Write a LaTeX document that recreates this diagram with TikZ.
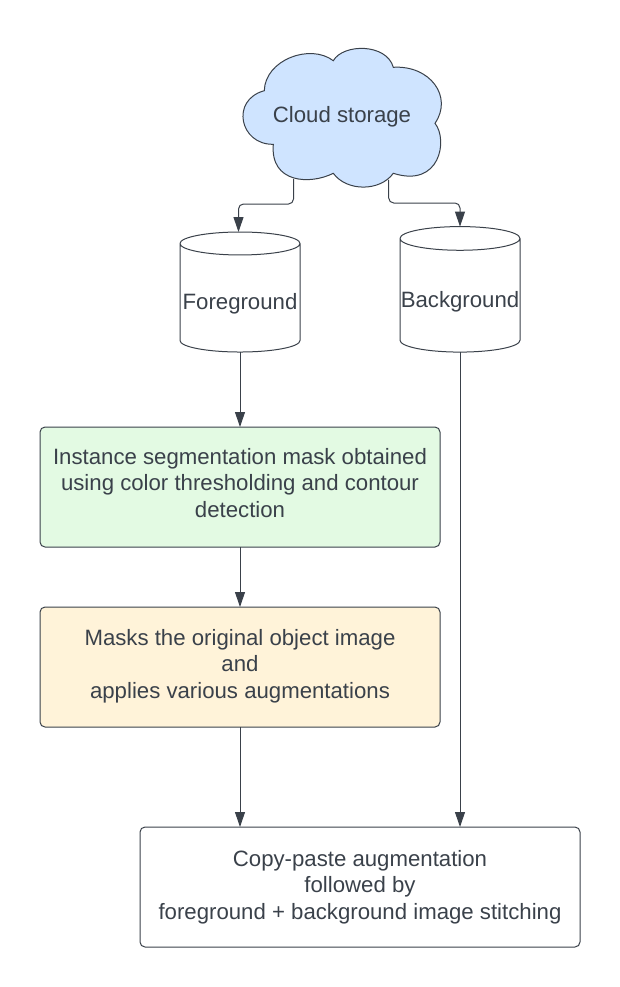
\documentclass[tikz,border=0pt]{standalone}
\usepackage{fontspec}
\setmainfont{Liberation Sans}
\usetikzlibrary{positioning,shapes.geometric,arrows.meta}

\definecolor{inkgrey}{HTML}{3A414A}
\definecolor{cloudblue}{HTML}{CFE4FF}
\definecolor{maskgreen}{HTML}{E3FAE3}
\definecolor{augorange}{HTML}{FFF3D9}

\newcommand{\liftby}[1]{\rule[-#1]{0pt}{#1}}
\newcommand{\dropby}[1]{\rule{0pt}{#1}}

\tikzset{
    x=1pt, y=-1pt,
    every node/.style={font=\fontsize{22.2}{26.5}\selectfont, text=inkgrey},
    flowbox/.style={draw=inkgrey, line width=1pt, rounded corners=5pt, align=center,
        minimum height=120pt, inner sep=0pt, outer sep=0pt},
    store/.style={draw=inkgrey, line width=1pt, cylinder, shape border rotate=90, shape aspect=0.2,
        minimum width=120pt, inner sep=0pt, outer sep=0pt},
    link/.style={draw=inkgrey, line width=1pt, rounded corners=5pt,
        -{Triangle[length=15pt,width=10pt]}},
}

\begin{document}
\begin{tikzpicture}
    \useasboundingbox (0,0) rectangle (620,987);

    \draw [fill=cloudblue, draw=inkgrey, line width=1pt]
        (264.3,90.7)
        .. controls (265,60) and (310,43) .. (333.3,60.7)
        .. controls (343.3,43.3) and (386.7,43.3) .. (393.3,67.3)
        .. controls (430,65) and (453.3,96.7) .. (435,123.3)
        .. controls (448.3,140) and (440,188.3) .. (393.3,173.3)
        .. controls (380,191.7) and (346.7,191.7) .. (333.3,173.3)
        .. controls (310,185) and (270,183.3) .. (273.3,144.3)
        .. controls (240,145) and (230,100) .. (264.3,90.7)
        -- cycle;
    \node (cloud) at (342,117) {Cloud storage};
    \coordinate (cloudfg) at (293.5,179);
    \coordinate (cloudbg) at (388.7,180);

    \node [store, minimum height=120pt] (fg) at (240,298) {\dropby{28pt}Foreground};
    \node [store, minimum height=125.5pt] (bg) at (460,295.5) {\dropby{29pt}Background};

    \node [flowbox, fill=maskgreen, minimum width=400pt, below=75pt of fg] (seg)
        {Instance segmentation mask obtained\\using color thresholding and contour\\detection\liftby{9pt}};
    \node [flowbox, fill=augorange, minimum width=400pt, below=60pt of seg] (aug)
        {Masks the original object image\\and\\applies various augmentations\liftby{7pt}};
    \node [flowbox, minimum width=440pt, anchor=north] (stitch) at (360,827)
        {Copy-paste augmentation\\followed by\\foreground + background image stitching};

    \coordinate (fgbend) at (238.5,204);
    \coordinate (bgbend) at (460,203);
    \coordinate (fgtop) at (238.5,232);

    \draw [link] (cloudfg) |- (fgbend) -- (fgtop);
    \draw [link] (cloudbg) |- (bgbend) -- (bg.north);
    \draw [link] (fg.south) -- (seg);
    \draw [link] (seg) -- (aug);
    \draw [link] (aug) -- (aug.south |- stitch.north);
    \draw [link] (bg.south) -- (bg.south |- stitch.north);
\end{tikzpicture}
\end{document}
